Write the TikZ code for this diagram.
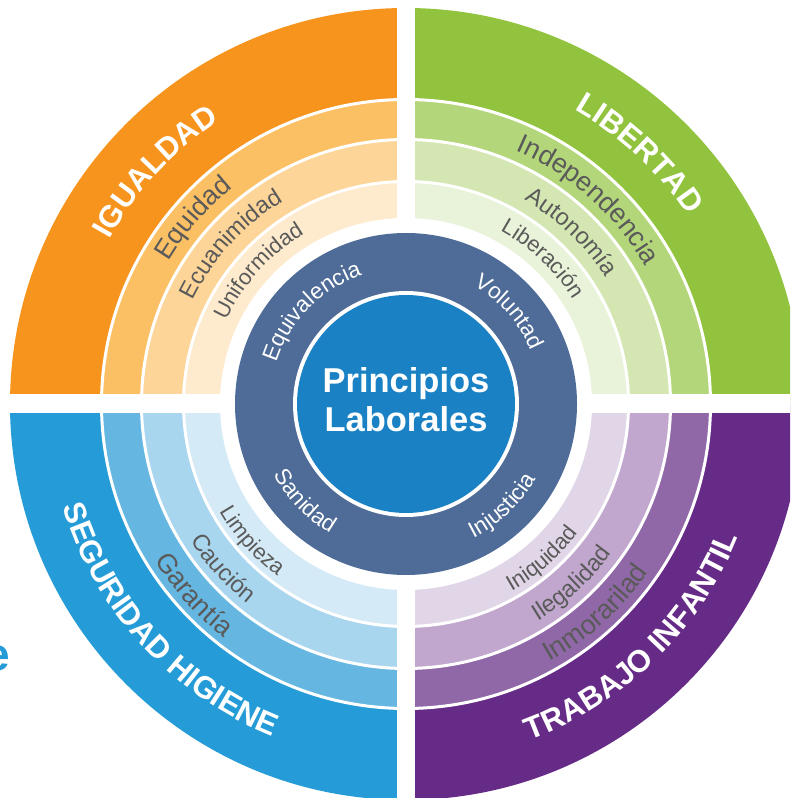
\documentclass[tikz,border=0pt]{standalone}
\usepackage{fontspec}
\setmainfont{Liberation Sans}
\usetikzlibrary{decorations.text}
\definecolor{igual1}{HTML}{F7941D}
\definecolor{igual2}{HTML}{FCC064}
\definecolor{igual3}{HTML}{FDD598}
\definecolor{igual4}{HTML}{FEEACD}
\definecolor{liber1}{HTML}{92C33E}
\definecolor{liber2}{HTML}{B4D67B}
\definecolor{liber3}{HTML}{D4E7B2}
\definecolor{liber4}{HTML}{E9F3DA}
\definecolor{segur1}{HTML}{259CD7}
\definecolor{segur2}{HTML}{65B7E2}
\definecolor{segur3}{HTML}{A9D6EF}
\definecolor{segur4}{HTML}{D4EAF7}
\definecolor{traba1}{HTML}{652B87}
\definecolor{traba2}{HTML}{9068A7}
\definecolor{traba3}{HTML}{C1A7CE}
\definecolor{traba4}{HTML}{E1D5E8}
\definecolor{anillo}{HTML}{4E6C97}
\definecolor{nucleo}{HTML}{1A82C4}
\definecolor{lblgray}{HTML}{5A5A5A}
\tikzstyle{ringline} = [white, line width=3pt]
\tikzstyle{title} = [text=white, font=\fontsize{34.5}{39}\selectfont\bfseries, align=center]
\newcommand{\outerfont}{\fontsize{31}{31}\selectfont\bfseries}
\newcommand{\ringfontA}{\fontsize{27}{27}\selectfont}
\newcommand{\ringfontB}{\fontsize{23.5}{23.5}\selectfont}
\newcommand{\ringfontC}{\fontsize{22}{22}\selectfont}
\newcommand{\darkfont}{\fontsize{22.5}{22.5}\selectfont}
\newcommand{\quadrant}[5]{
	\fill[#2] (C) -- (#1:396pt) arc[start angle=#1, end angle=#1+90, radius=396pt] -- cycle;
	\fill[#3] (C) -- (#1:304.5pt) arc[start angle=#1, end angle=#1+90, radius=304.5pt] -- cycle;
	\fill[#4] (C) -- (#1:264.5pt) arc[start angle=#1, end angle=#1+90, radius=264.5pt] -- cycle;
	\fill[#5] (C) -- (#1:222.5pt) arc[start angle=#1, end angle=#1+90, radius=222.5pt] -- cycle;
}
\newcommand{\arctop}[5]{
	\path[decorate, decoration={text along path, text align=center, text color=#1, text={|#4|#5}}]
		({#3+70}:#2) arc[start angle={#3+70}, end angle={#3-70}, radius=#2];
}
\newcommand{\arcbot}[5]{
	\path[decorate, decoration={text along path, text align=center, text color=#1, text={|#4|#5}}]
		({#3-70}:#2) arc[start angle={#3-70}, end angle={#3+70}, radius=#2];
}

\begin{document}
\begin{tikzpicture}[x=1pt, y=1pt]
	\useasboundingbox (0,0) rectangle (790,798);
	\clip (0,0) rectangle (790,798);
	\begin{scope}[shift={(406,394)}]
		\coordinate (C) at (0,0);
		\quadrant{90}{igual1}{igual2}{igual3}{igual4}
		\quadrant{0}{liber1}{liber2}{liber3}{liber4}
		\quadrant{180}{segur1}{segur2}{segur3}{segur4}
		\quadrant{270}{traba1}{traba2}{traba3}{traba4}
		\draw[ringline] (C) circle[radius=304.5pt];
		\draw[ringline] (C) circle[radius=264.5pt];
		\draw[ringline] (C) circle[radius=222.5pt];
		\fill[white] (-9,-420) rectangle (9,420);
		\fill[white] (-420,-9) rectangle (420,10);
		\fill[white] (C) circle[radius=186pt];
		\fill[anillo] (C) circle[radius=171pt];
		\fill[white] (C) circle[radius=113pt];
		\fill[nucleo] (C) circle[radius=109pt];
		\node[title] (principios) at (0,4) {Principios\\Laborales};
		\arctop{white}{339pt}{137.2}{\outerfont}{IGUALDAD}
		\arctop{white}{339pt}{47}{\outerfont}{LIBERTAD}
		\arctop{lblgray}{277pt}{138.9}{\ringfontA}{Equidad}
		\arctop{lblgray}{276pt}{48.2}{\ringfontA}{Independencia}
		\arctop{lblgray}{237pt}{137.6}{\ringfontB}{Ecuanimidad}
		\arctop{lblgray}{236pt}{46.1}{\ringfontB}{Autonomía}
		\arctop{lblgray}{198pt}{138}{\ringfontC}{Uniformidad}
		\arctop{lblgray}{197pt}{46.7}{\ringfontC}{Liberación}
		\arctop{white}{136pt}{135.6}{\darkfont}{Equivalencia}
		\arctop{white}{136pt}{41.7}{\darkfont}{Voluntad}
		\arcbot{white}{358pt}{222.4}{\outerfont}{SEGURIDAD HIGIENE}
		\arcbot{white}{358pt}{314.2}{\outerfont}{TRABAJO INFANTIL}
		\arcbot{lblgray}{296pt}{222}{\ringfontA}{Garantía}
		\arcbot{lblgray}{295pt}{312.2}{\ringfontA}{Inmorarilad}
		\arcbot{lblgray}{255pt}{222}{\ringfontB}{Caución}
		\arcbot{lblgray}{254pt}{312.6}{\ringfontB}{Ilegalidad}
		\arcbot{lblgray}{215pt}{221.6}{\ringfontC}{Limpieza}
		\arcbot{lblgray}{215pt}{311.3}{\ringfontC}{Iniquidad}
		\arcbot{white}{150pt}{223.9}{\darkfont}{Sanidad}
		\arcbot{white}{150pt}{313.4}{\darkfont}{Injusticia}
	\end{scope}
	\node[anchor=base east, inner sep=0, text=segur1, font=\fontsize{46}{46}\selectfont\bfseries] (letra) at (10,127) {e};
\end{tikzpicture}
\end{document}
